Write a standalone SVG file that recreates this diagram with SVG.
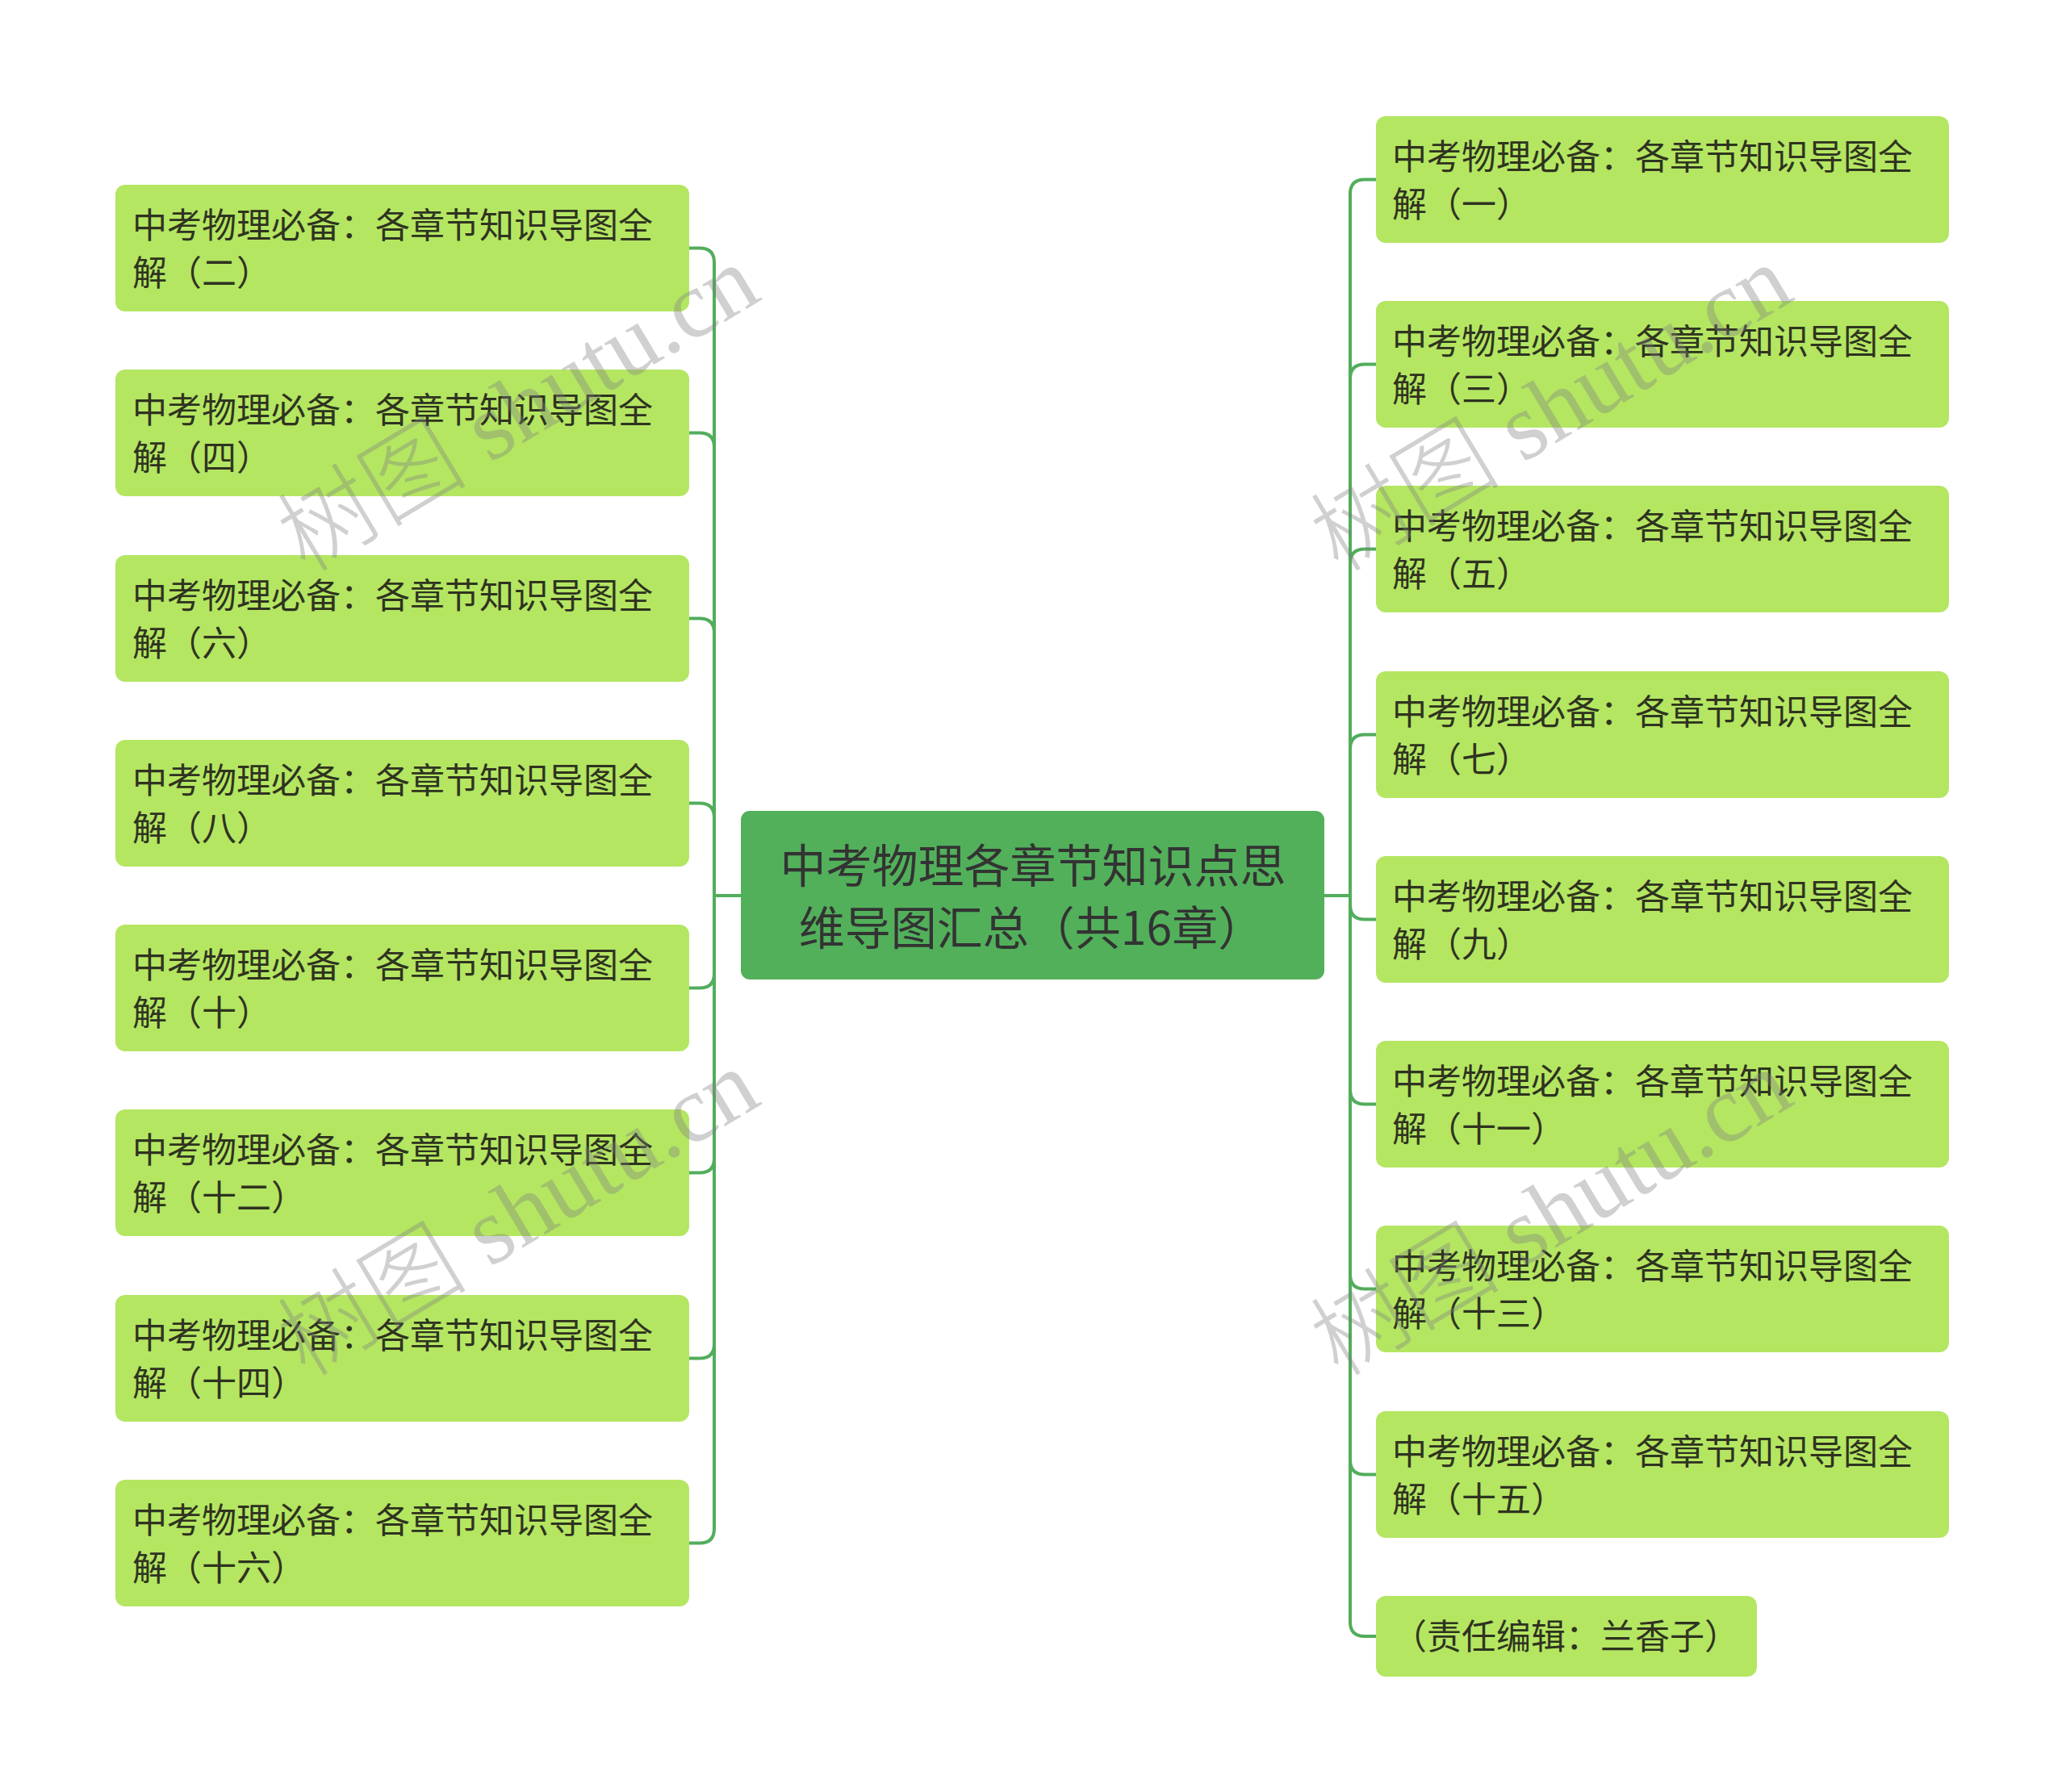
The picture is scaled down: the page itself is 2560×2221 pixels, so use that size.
<svg xmlns="http://www.w3.org/2000/svg" width="2560" height="2221" viewBox="0 0 2560 2221">
<style>
.bg{fill:#ffffff}
.child{fill:#b4e662}
.root{fill:#52b05b}
.t{font-family:"Noto Sans CJK SC","Noto Sans",sans-serif;font-size:43px;fill:#2f3320}
.rt{font-family:"Noto Sans CJK SC","Noto Sans",sans-serif;font-size:57px;fill:#333333;text-anchor:middle}
.conn path{fill:none;stroke:#52ad5c;stroke-width:4}
.wm{font-family:"Liberation Serif","Noto Sans CJK SC",serif;font-size:118px;font-weight:300;fill:#808080;fill-opacity:0.37;text-anchor:middle}
</style>
<rect class="bg" x="0" y="0" width="2560" height="2221"/>
<g id="connectors" class="conn">
<path d="M918,1110 H885 V325.5 Q885,307.5 867,307.5 H854"/>
<path d="M918,1110 H885 V554.5 Q885,536.5 867,536.5 H854"/>
<path d="M918,1110 H885 V784.5 Q885,766.5 867,766.5 H854"/>
<path d="M918,1110 H885 V1013.5 Q885,995.5 867,995.5 H854"/>
<path d="M918,1110 H885 V1206.5 Q885,1224.5 867,1224.5 H854"/>
<path d="M918,1110 H885 V1435.5 Q885,1453.5 867,1453.5 H854"/>
<path d="M918,1110 H885 V1665.5 Q885,1683.5 867,1683.5 H854"/>
<path d="M918,1110 H885 V1894.5 Q885,1912.5 867,1912.5 H854"/>
<path d="M1641,1110 H1673 V240.5 Q1673,222.5 1691,222.5 H1705"/>
<path d="M1641,1110 H1673 V469.5 Q1673,451.5 1691,451.5 H1705"/>
<path d="M1641,1110 H1673 V698.5 Q1673,680.5 1691,680.5 H1705"/>
<path d="M1641,1110 H1673 V928.5 Q1673,910.5 1691,910.5 H1705"/>
<path d="M1641,1110 H1673 V1121.5 Q1673,1139.5 1691,1139.5 H1705"/>
<path d="M1641,1110 H1673 V1350.5 Q1673,1368.5 1691,1368.5 H1705"/>
<path d="M1641,1110 H1673 V1579.5 Q1673,1597.5 1691,1597.5 H1705"/>
<path d="M1641,1110 H1673 V1809.5 Q1673,1827.5 1691,1827.5 H1705"/>
<path d="M1641,1110 H1673 V2010 Q1673,2028 1691,2028 H1705"/>
</g>
<g id="root">
<rect class="root" x="918" y="1005" width="723" height="209" rx="11"/>
<text class="rt" x="1280" y="1094">中考物理各章节知识点思</text>
<text class="rt" x="1278" y="1171">维导图汇总（共16章）</text>
</g>
<g id="n2"><rect class="child" x="143" y="229" width="711" height="157" rx="12"/><text class="t" x="164" y="295">中考物理必备：各章节知识导图全</text><text class="t" x="164" y="354">解（二）</text></g>
<g id="n4"><rect class="child" x="143" y="458" width="711" height="157" rx="12"/><text class="t" x="164" y="524">中考物理必备：各章节知识导图全</text><text class="t" x="164" y="583">解（四）</text></g>
<g id="n6"><rect class="child" x="143" y="688" width="711" height="157" rx="12"/><text class="t" x="164" y="754">中考物理必备：各章节知识导图全</text><text class="t" x="164" y="813">解（六）</text></g>
<g id="n8"><rect class="child" x="143" y="917" width="711" height="157" rx="12"/><text class="t" x="164" y="983">中考物理必备：各章节知识导图全</text><text class="t" x="164" y="1042">解（八）</text></g>
<g id="n10"><rect class="child" x="143" y="1146" width="711" height="157" rx="12"/><text class="t" x="164" y="1212">中考物理必备：各章节知识导图全</text><text class="t" x="164" y="1271">解（十）</text></g>
<g id="n12"><rect class="child" x="143" y="1375" width="711" height="157" rx="12"/><text class="t" x="164" y="1441">中考物理必备：各章节知识导图全</text><text class="t" x="164" y="1500">解（十二）</text></g>
<g id="n14"><rect class="child" x="143" y="1605" width="711" height="157" rx="12"/><text class="t" x="164" y="1671">中考物理必备：各章节知识导图全</text><text class="t" x="164" y="1730">解（十四）</text></g>
<g id="n16"><rect class="child" x="143" y="1834" width="711" height="157" rx="12"/><text class="t" x="164" y="1900">中考物理必备：各章节知识导图全</text><text class="t" x="164" y="1959">解（十六）</text></g>
<g id="n1"><rect class="child" x="1705" y="144" width="710" height="157" rx="12"/><text class="t" x="1725" y="210">中考物理必备：各章节知识导图全</text><text class="t" x="1725" y="269">解（一）</text></g>
<g id="n3"><rect class="child" x="1705" y="373" width="710" height="157" rx="12"/><text class="t" x="1725" y="439">中考物理必备：各章节知识导图全</text><text class="t" x="1725" y="498">解（三）</text></g>
<g id="n5"><rect class="child" x="1705" y="602" width="710" height="157" rx="12"/><text class="t" x="1725" y="668">中考物理必备：各章节知识导图全</text><text class="t" x="1725" y="727">解（五）</text></g>
<g id="n7"><rect class="child" x="1705" y="832" width="710" height="157" rx="12"/><text class="t" x="1725" y="898">中考物理必备：各章节知识导图全</text><text class="t" x="1725" y="957">解（七）</text></g>
<g id="n9"><rect class="child" x="1705" y="1061" width="710" height="157" rx="12"/><text class="t" x="1725" y="1127">中考物理必备：各章节知识导图全</text><text class="t" x="1725" y="1186">解（九）</text></g>
<g id="n11"><rect class="child" x="1705" y="1290" width="710" height="157" rx="12"/><text class="t" x="1725" y="1356">中考物理必备：各章节知识导图全</text><text class="t" x="1725" y="1415">解（十一）</text></g>
<g id="n13"><rect class="child" x="1705" y="1519" width="710" height="157" rx="12"/><text class="t" x="1725" y="1585">中考物理必备：各章节知识导图全</text><text class="t" x="1725" y="1644">解（十三）</text></g>
<g id="n15"><rect class="child" x="1705" y="1749" width="710" height="157" rx="12"/><text class="t" x="1725" y="1815">中考物理必备：各章节知识导图全</text><text class="t" x="1725" y="1874">解（十五）</text></g>
<g id="editor"><rect class="child" x="1705" y="1978" width="472" height="100" rx="12"/><text class="t" x="1725" y="2044">（责任编辑：兰香子）</text></g>
<g id="watermarks">
<text class="wm" transform="translate(643,508) rotate(-31)" x="0" y="38">树图 shutu.cn</text>
<text class="wm" transform="translate(1923,508) rotate(-31)" x="0" y="38">树图 shutu.cn</text>
<text class="wm" transform="translate(643,1505) rotate(-31)" x="0" y="38">树图 shutu.cn</text>
<text class="wm" transform="translate(1923,1505) rotate(-31)" x="0" y="38">树图 shutu.cn</text>
</g>
</svg>
